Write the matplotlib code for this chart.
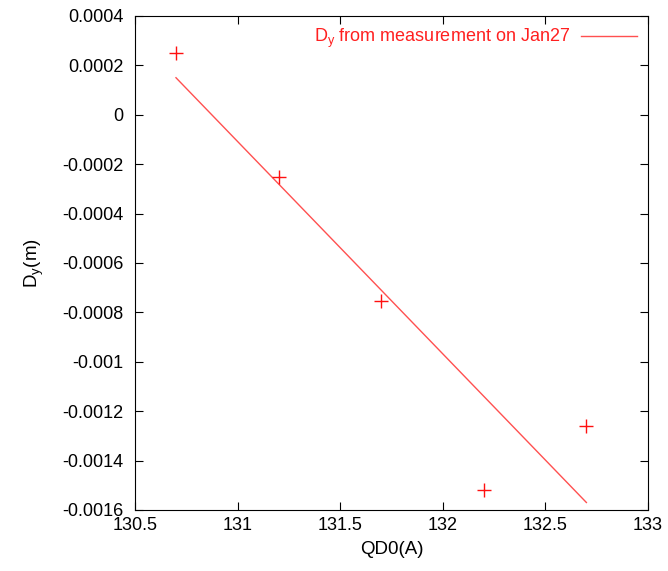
import numpy as np
import matplotlib
matplotlib.use("Agg")
import matplotlib.pyplot as plt
from matplotlib.ticker import FuncFormatter

plt.rcParams['font.family'] = ['Liberation Sans', 'DejaVu Sans']
plt.rcParams['mathtext.fontset'] = 'custom'
plt.rcParams['mathtext.rm'] = 'Liberation Sans'
plt.rcParams['mathtext.it'] = 'Liberation Sans'

# measured points
qd0 = [130.7, 131.2, 131.7, 132.2, 132.7]
dy = [0.00025, -0.00025, -0.000755, -0.00152, -0.00126]

# fitted line end points
fit_x = [130.7, 132.7]
fit_y = [0.00015, -0.00157]

x_ticks = [130.5, 131, 131.5, 132, 132.5, 133]
y_ticks = [-0.0016, -0.0014, -0.0012, -0.001, -0.0008, -0.0006, -0.0004,
           -0.0002, 0, 0.0002, 0.0004]

fig = plt.figure(figsize=(6.68, 5.71), dpi=100)
ax = fig.add_axes([0.202, 0.107, 0.768, 0.865])

ax.plot(fit_x, fit_y, color='#ff5050', lw=1.0,
        label=r'D$_\mathregular{y}$ from measurement on Jan27')
ax.plot(qd0, dy, linestyle='none', marker='+', color='#ff1010',
        markersize=10, markeredgewidth=1.0)

ax.set_xlim(130.5, 133)
ax.set_ylim(-0.0016, 0.0004)
ax.set_xticks(x_ticks)
ax.set_yticks(y_ticks)
ax.xaxis.set_major_formatter(FuncFormatter(lambda v, p: '%g' % v))
ax.yaxis.set_major_formatter(FuncFormatter(lambda v, p: '%g' % round(v, 6)))
ax.tick_params(direction='in', top=True, right=True, length=6, labelsize=13,
               pad=5)
ax.tick_params(axis='y', pad=8)

ax.set_xlabel('QD0(A)', fontsize=13.5, labelpad=5)
ax.set_ylabel(r'D$_\mathregular{y}$(m)', fontsize=13.5, labelpad=12)

leg = ax.legend(loc='upper right', frameon=False, markerfirst=False,
                handlelength=3.1, handletextpad=0.6, fontsize=13,
                borderaxespad=0.2)
for t in leg.get_texts():
    t.set_color('#ff2020')

fig.savefig('out.png', dpi=100)
